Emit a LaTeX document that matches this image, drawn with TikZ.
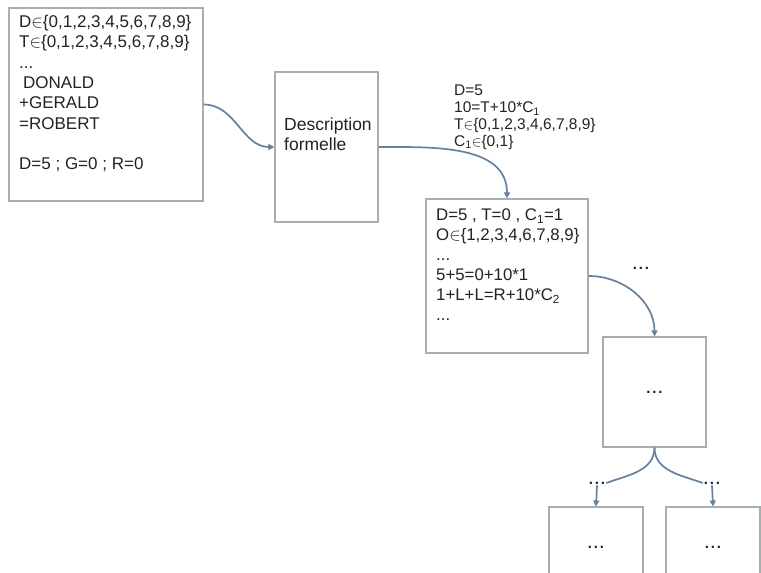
\documentclass[tikz,border=0pt]{standalone}
\usepackage{fontspec}
\setmainfont{Liberation Sans}
\usetikzlibrary{arrows.meta}
\definecolor{boxgray}{RGB}{165,175,175}
\definecolor{arrowblue}{RGB}{100,130,160}
\definecolor{textgray}{RGB}{35,35,35}
\newcommand{\dotsx}{\textbf{.\kern1.8pt.\kern1.8pt.}}
\begin{document}
\begin{tikzpicture}[x=1pt,y=-1pt,
  box/.style={draw=boxgray,line width=1.1pt,rectangle,inner sep=0pt,fill=white},
  conn/.style={draw=arrowblue,line width=1.7pt},
  tip/.style={-{Triangle[length=6pt,width=6pt]}},
  txt/.style={inner sep=0pt,align=left,text=textgray},
  dotlab/.style={inner sep=1pt,text=textgray,font=\fontsize{15}{16}\selectfont}]
\useasboundingbox (0,0) rectangle (761,573);
\clip (0,0) rectangle (761,573);
\fill[white] (0,0) rectangle (761,573);

% boxes
\node[box,minimum width=194pt,minimum height=193pt] (b1) at (106,104.5) {};
\node[box,minimum width=103pt,minimum height=150pt] (b2) at (326.5,147) {};
\node[box,minimum width=162pt,minimum height=154pt] (b3) at (507,276) {};
\node[box,minimum width=103pt,minimum height=110pt,text=textgray,font=\fontsize{15}{16}\selectfont] (b4) at (654.5,392) {\dotsx};
\node[box,minimum width=94pt,minimum height=80pt,text=textgray,font=\fontsize{15}{16}\selectfont] (b5) at (596,547) {\dotsx};
\node[box,minimum width=94pt,minimum height=80pt,text=textgray,font=\fontsize{15}{16}\selectfont] (b6) at (713,547) {\dotsx};

% texts
\node[txt,anchor=north west,font=\fontsize{17}{20.3}\selectfont] (t1) at (19,15)
  {D$\in$\{0,1,2,3,4,5,6,7,8,9\}\\
   T$\in$\{0,1,2,3,4,5,6,7,8,9\}\\
   ...\\
   \hspace*{4pt}DONALD\\
   +GERALD\\
   =ROBERT\\[20.3pt]
   D=5 ; G=0 ; R=0};
\node[txt,anchor=north west,font=\fontsize{17.5}{20}\selectfont] (t2) at (284,118)
  {Description\\formelle};
\node[txt,anchor=north west,font=\fontsize{15.5}{16.8}\selectfont] (t3) at (454,85)
  {D=5\\
   10=T+10*C\textsubscript{1}\\
   T$\in$\{0,1,2,3,4,6,7,8,9\}\\
   C\textsubscript{1}$\in$\{0,1\}};
\node[txt,anchor=north west,font=\fontsize{16.8}{20}\selectfont] (t4) at (436,209)
  {D=5 , T=0 , C\textsubscript{1}=1\\
   O$\in$\{1,2,3,4,6,7,8,9\}\\
   ...\\
   5+5=0+10*1\\
   1+L+L=R+10*C\textsubscript{2}\\
   ...};

% labels
\node[dotlab] (l34) at (641,268) {\dotsx};
\node[dotlab] (l5) at (597,483) {\dotsx};
\node[dotlab] (l6) at (712,483) {\dotsx};

% connectors
\draw[conn,tip] (b1.east) to[out=0,in=180] (b2.west);
\draw[conn,tip] (b2.east) to[out=0,in=90] (b3.north);
\draw[conn,tip] (b3.east) to[out=0,in=90] (b4.north);
\draw[conn] (b4.south) to[out=-90,in=20] (l5.east);
\draw[conn,tip] (l5.south) -- (b5.north);
\draw[conn] (b4.south) to[out=-90,in=160] (l6.west);
\draw[conn,tip] (l6.south) -- (b6.north);
\end{tikzpicture}
\end{document}
